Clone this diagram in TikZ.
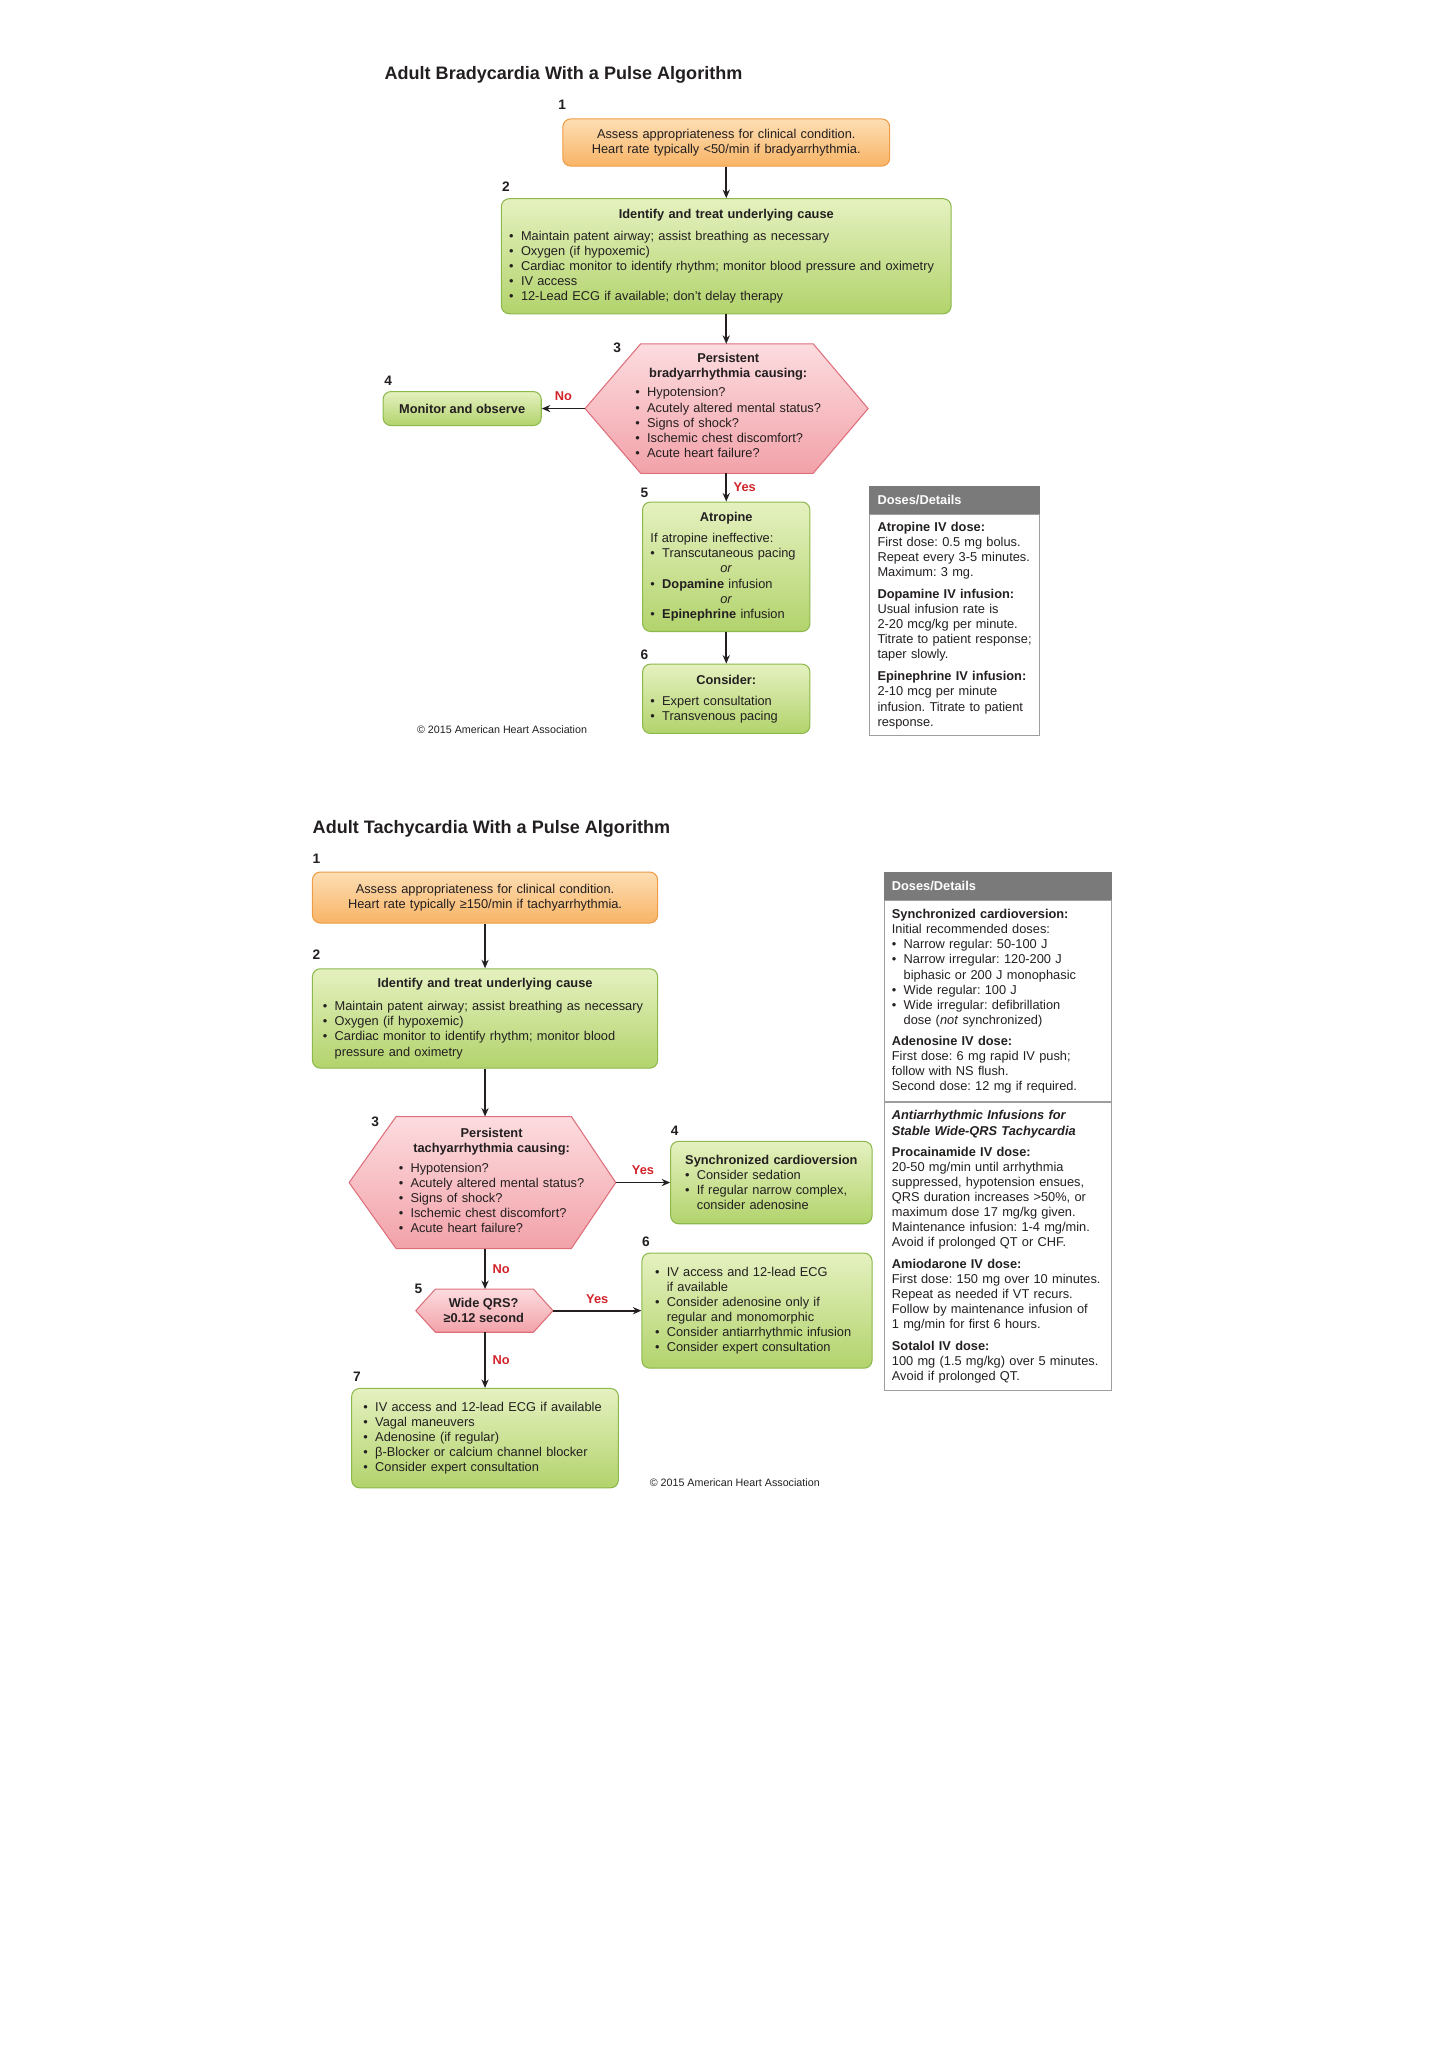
\documentclass[tikz,border=0pt]{standalone}
\usepackage{fontspec}
\setmainfont{Liberation Sans}
\usepackage{tikz}
\usetikzlibrary{
  arrows.meta,
  positioning,
  calc
}
\frenchspacing
\definecolor{OrLight}{HTML}{FDDEB4}
\definecolor{OrDeep}{HTML}{F8B466}
\definecolor{OrEdge}{HTML}{EE9C45}
\definecolor{GrLight}{HTML}{E5F1C0}
\definecolor{GrDeep}{HTML}{B2D36C}
\definecolor{GrEdge}{HTML}{8CB84C}
\definecolor{PkLight}{HTML}{FCDCDF}
\definecolor{PkDeep}{HTML}{F2A2A9}
\definecolor{PkEdge}{HTML}{DE6E7A}
\definecolor{AhaRed}{HTML}{D2232A}
\definecolor{HeadGray}{HTML}{7A7A7A}
\definecolor{FrameGray}{HTML}{9E9E9E}
\definecolor{Ink}{HTML}{231F20}

\newcommand{\bl}{\makebox[9pt][l]{\textbullet}}
\newcommand{\ind}{\hspace*{9pt}}
\newcommand{\ctr}[1]{\makebox[\linewidth]{#1}}

\tikzset{
  % Step box: #1 = colour family (Or, Gr)
  stepbox/.style={
    rectangle, rounded corners=6pt,
    draw=#1Edge, top color=#1Light, bottom color=#1Deep,
    line width=0.8pt, inner xsep=8pt, inner ysep=0pt,
    font=\fontsize{9.8}{11.6}\selectfont, text=Ink
  },
  % Hexagon outline
  hexpath/.style={
    draw=PkEdge, top color=PkLight, bottom color=PkDeep,
    line width=0.8pt, line join=round
  },
  % Text inside a hexagon
  hextext/.style={
    inner sep=0pt, align=left,
    font=\fontsize{9.8}{11.6}\selectfont, text=Ink
  },
  % Step number
  num/.style={font=\fontsize{10.5}{12}\selectfont\bfseries, text=Ink, inner sep=0pt},
  % Arrow
  arr/.style={
    -{Stealth[length=6.5pt,width=5.5pt]},
    line width=1.4pt, color=Ink
  },
  % Yes / No label
  yn/.style={font=\fontsize{9.8}{11}\selectfont\bfseries, text=AhaRed, inner sep=1pt},
  % Doses header band
  dosehead/.style={
    rectangle, fill=HeadGray, draw=HeadGray, anchor=north west,
    minimum height=21pt, inner xsep=6pt, align=left,
    font=\fontsize{9.8}{11.6}\selectfont\bfseries, text=white
  },
  % Doses body
  dosebody/.style={
    rectangle, draw=FrameGray, line width=0.8pt, anchor=north west,
    inner xsep=6pt, inner ysep=0pt, align=left,
    font=\fontsize{9.8}{11.5}\selectfont, text=Ink
  },
  % Title line
  headline/.style={anchor=west, inner sep=0pt, font=\fontsize{13.8}{16}\selectfont\bfseries, text=Ink},
  % Copyright line
  credit/.style={inner sep=0pt, font=\fontsize{8.2}{9}\selectfont, text=Ink}
}

\begin{document}
\begin{tikzpicture}[x=1pt, y=-1pt]
  \useasboundingbox (0,0) rectangle (1108,1568);

  % ---------------- Bradycardia ----------------
  \node[headline] (ttl1) at (294,57) {Adult Bradycardia With a Pulse Algorithm};

  \node[num] (bn1) at (430,80) {1};
  \node[num] (bn2) at (387,143) {2};
  \node[num] (bn3) at (472,266) {3};
  \node[num] (bn4) at (297,291) {4};
  \node[num] (bn5) at (493,377) {5};
  \node[num] (bn6) at (493,501) {6};

  \node[stepbox=Or, text width=234pt, minimum height=36pt, align=center] (br1) at (555.5,109)
    {Assess appropriateness for clinical condition.\\Heart rate typically <50/min if bradyarrhythmia.};

  \node[stepbox=Gr, text width=332pt, inner xsep=6pt, minimum height=88pt, align=left] (br2) at (555.5,196)
    {\ctr{\textbf{Identify and treat underlying cause}}\\[5pt]
     \bl Maintain patent airway; assist breathing as necessary\\
     \bl Oxygen (if hypoxemic)\\
     \bl Cardiac monitor to identify rhythm; monitor blood pressure and oximetry\\
     \bl IV access\\
     \bl 12-Lead ECG if available; don't delay therapy};

  \draw[hexpath] (447.5,312.5) -- (490,263) -- (622,263) -- (664,312.5) -- (622,362) -- (490,362) -- cycle;
  \coordinate (br3n) at (555.5,263);
  \coordinate (br3w) at (447.5,312.5);
  \coordinate (br3s) at (555.5,362);
  \node[hextext, text width=142pt] (br3) at (557,310)
    {\ctr{\textbf{Persistent}}\\
     \ctr{\textbf{bradyarrhythmia causing:}}\\[3.5pt]
     \bl Hypotension?\\
     \bl Acutely altered mental status?\\
     \bl Signs of shock?\\
     \bl Ischemic chest discomfort?\\
     \bl Acute heart failure?};

  \node[stepbox=Gr, minimum width=121pt, minimum height=26pt] (br4) at (353.5,312.5)
    {\textbf{Monitor and observe}};

  \node[stepbox=Gr, text width=116pt, inner xsep=6pt, minimum height=99pt, align=left] (br5) at (555.5,433.5)
    {\ctr{\textbf{Atropine}}\\[4.4pt]
     If atropine ineffective:\\
     \bl Transcutaneous pacing\\
     \ctr{\textit{or}}\\
     \bl\textbf{Dopamine} infusion\\
     \ctr{\textit{or}}\\
     \bl\textbf{Epinephrine} infusion};

  \node[stepbox=Gr, text width=116pt, inner xsep=6pt, minimum height=53pt, align=left] (br6) at (555.5,534.5)
    {\ctr{\textbf{Consider:}}\\[4.4pt]
     \bl Expert consultation\\
     \bl Transvenous pacing};

  \node[credit] (cr1) at (384,558) {© 2015 American Heart Association};

  \node[dosehead, text width=118pt] (brdh) at (665,372) {Doses/Details};
  \node[dosebody, text width=118pt, minimum height=169pt, below=0pt of brdh] (brdb)
    {\textbf{Atropine IV dose:}\\
     First dose: 0.5 mg bolus.\\
     Repeat every 3-5 minutes.\\
     Maximum: 3 mg.\\[5.5pt]
     \textbf{Dopamine IV infusion:}\\
     Usual infusion rate is\\
     2-20 mcg/kg per minute.\\
     Titrate to patient response;\\
     taper slowly.\\[5.5pt]
     \textbf{Epinephrine IV infusion:}\\
     2-10 mcg per minute\\
     infusion. Titrate to patient\\
     response.};

  \draw[arr] (br1) -- (br2);
  \draw[arr] (br2) -- (br3n);
  \draw[arr] (br3w) -- node[yn, above=4pt] (brno) {No} (br4);
  \draw[arr] (br3s) -- node[yn, right=4pt] (bryes) {Yes} (br5);
  \draw[arr] (br5) -- (br6);

  % ---------------- Tachycardia ----------------
  \node[headline] (ttl2) at (239,634) {Adult Tachycardia With a Pulse Algorithm};

  \node[num] (tn1) at (242,657) {1};
  \node[num] (tn2) at (242,730) {2};
  \node[num] (tn3) at (287,858) {3};
  \node[num] (tn4) at (516,865) {4};
  \node[num] (tn5) at (320,986) {5};
  \node[num] (tn6) at (494,950) {6};
  \node[num] (tn7) at (273,1053) {7};

  \node[stepbox=Or, text width=248pt, minimum height=39pt, align=center] (ta1) at (371,686.5)
    {Assess appropriateness for clinical condition.\\Heart rate typically ≥150/min if tachyarrhythmia.};

  \node[stepbox=Gr, text width=248pt, minimum height=76pt, align=left] (ta2) at (371,779)
    {\ctr{\textbf{Identify and treat underlying cause}}\\[6pt]
     \bl Maintain patent airway; assist breathing as necessary\\
     \bl Oxygen (if hypoxemic)\\
     \bl Cardiac monitor to identify rhythm; monitor blood\\
     \ind pressure and oximetry};

  \draw[hexpath] (267,904.5) -- (303,854) -- (437,854) -- (471,904.5) -- (437,955) -- (303,955) -- cycle;
  \coordinate (ta3n) at (371,854);
  \coordinate (ta3e) at (471,904.5);
  \coordinate (ta3s) at (371,955);
  \node[hextext, text width=142pt] (ta3) at (376,903)
    {\ctr{\textbf{Persistent}}\\
     \ctr{\textbf{tachyarrhythmia causing:}}\\[3.5pt]
     \bl Hypotension?\\
     \bl Acutely altered mental status?\\
     \bl Signs of shock?\\
     \bl Ischemic chest discomfort?\\
     \bl Acute heart failure?};

  \node[stepbox=Gr, text width=132pt, inner xsep=11pt, minimum height=63pt, align=left] (ta4) at (590,904.5)
    {\ctr{\textbf{Synchronized cardioversion}}\\
     \bl Consider sedation\\
     \bl If regular narrow complex,\\
     \ind consider adenosine};

  \draw[hexpath] (318,1002.5) -- (333,986) -- (408,986) -- (423,1002.5) -- (408,1019) -- (333,1019) -- cycle;
  \coordinate (ta5n) at (371,986);
  \coordinate (ta5e) at (423,1002.5);
  \coordinate (ta5s) at (371,1019);
  \node[hextext, align=center] (ta5) at (370,1002.5)
    {\textbf{Wide QRS?}\\\textbf{≥0.12 second}};

  \node[stepbox=Gr, text width=156pt, inner xsep=10pt, minimum height=88pt, align=left] (ta6) at (579,1002.5)
    {\bl IV access and 12-lead ECG\\
     \ind if available\\
     \bl Consider adenosine only if\\
     \ind regular and monomorphic\\
     \bl Consider antiarrhythmic infusion\\
     \bl Consider expert consultation};

  \node[stepbox=Gr, text width=186pt, inner xsep=9pt, minimum height=76pt, align=left] (ta7) at (371,1100)
    {\bl IV access and 12-lead ECG if available\\
     \bl Vagal maneuvers\\
     \bl Adenosine (if regular)\\
     \bl β-Blocker or calcium channel blocker\\
     \bl Consider expert consultation};

  \node[credit] (cr2) at (562,1134) {© 2015 American Heart Association};

  \node[dosehead, text width=162pt] (tadh) at (676,667) {Doses/Details};
  \node[dosebody, text width=162pt, minimum height=154pt, below=0pt of tadh] (tadb)
    {\textbf{Synchronized cardioversion:}\\
     Initial recommended doses:\\
     \bl Narrow regular: 50-100 J\\
     \bl Narrow irregular: 120-200 J\\
     \ind biphasic or 200 J monophasic\\
     \bl Wide regular: 100 J\\
     \bl Wide irregular: defibrillation\\
     \ind dose (\textit{not} synchronized)\\[4.5pt]
     \textbf{Adenosine IV dose:}\\
     First dose: 6 mg rapid IV push;\\
     follow with NS flush.\\
     Second dose: 12 mg if required.};
  \node[dosebody, text width=162pt, minimum height=220pt, below=0pt of tadb] (tadc)
    {\textbf{\textit{Antiarrhythmic Infusions for}}\\
     \textbf{\textit{Stable Wide-QRS Tachycardia}}\\[5pt]
     \textbf{Procainamide IV dose:}\\
     20-50 mg/min until arrhythmia\\
     suppressed, hypotension ensues,\\
     QRS duration increases >50\%, or\\
     maximum dose 17 mg/kg given.\\
     Maintenance infusion: 1-4 mg/min.\\
     Avoid if prolonged QT or CHF.\\[5pt]
     \textbf{Amiodarone IV dose:}\\
     First dose: 150 mg over 10 minutes.\\
     Repeat as needed if VT recurs.\\
     Follow by maintenance infusion of\\
     1 mg/min for first 6 hours.\\[5pt]
     \textbf{Sotalol IV dose:}\\
     100 mg (1.5 mg/kg) over 5 minutes.\\
     Avoid if prolonged QT.};

  \draw[arr] (ta1) -- (ta2);
  \draw[arr] (ta2) -- (ta3n);
  \draw[arr] (ta3e) -- node[yn, above=4pt] (tayes1) {Yes} (ta4);
  \draw[arr] (ta3s) -- node[yn, right=4pt] (tano1) {No} (ta5n);
  \draw[arr] (ta5e) -- node[yn, above=4pt] (tayes2) {Yes} (ta6);
  \draw[arr] (ta5s) -- node[yn, right=4pt] (tano2) {No} (ta7);
\end{tikzpicture}
\end{document}
